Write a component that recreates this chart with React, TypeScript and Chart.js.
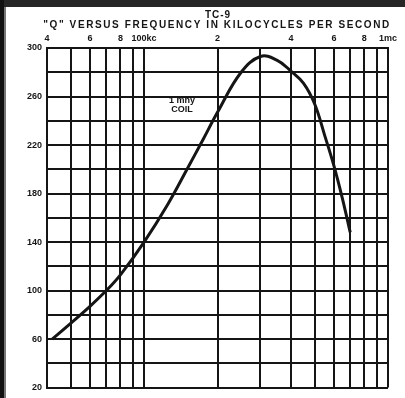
import React, { useEffect, useRef } from "react";
import { Chart, registerables } from "chart.js";

Chart.register(...registerables);

// Frequency in kilocycles per second
const frequencies = [42, 50, 60, 70, 80, 100, 125, 150, 175, 200, 250, 300, 350, 400, 450, 500, 550, 600, 650, 700];
// Q of the 1 mhy coil
const qValues = [60, 73, 87, 100, 113, 140, 171, 200, 225, 247, 280, 293, 290, 281, 271, 254, 228, 203, 176, 148];

const xTickValues = [40, 50, 60, 70, 80, 90, 100, 200, 300, 400, 500, 600, 700, 800, 900, 1000];
const xTickLabels = ["4", "", "6", "", "8", "", "100kc", "2", "", "4", "", "6", "", "8", "", "1mc"];

const yTickValues = [20, 40, 60, 80, 100, 120, 140, 160, 180, 200, 220, 240, 260, 280, 300];
const yTickLabels = ["20", "", "60", "", "100", "", "140", "", "180", "", "220", "", "260", "", "300"];

const titleLines = ["TC-9", "\"Q\" VERSUS FREQUENCY IN KILOCYCLES PER SECOND"];
const noteLines = ["1 mhy", "COIL"];
const noteAnchor = { freq: 143, q: [257, 249] };

const INK = "#151515";

const decorPlugin = {
  id: "decor",
  beforeDraw(chart: any) {
    const ctx = chart.ctx;
    ctx.save();
    ctx.fillStyle = "#ffffff";
    ctx.fillRect(0, 0, chart.width, chart.height);
    ctx.fillStyle = "#262626";
    ctx.fillRect(0, 0, chart.width, 7);
    ctx.fillStyle = "#111111";
    ctx.fillRect(0, 0, 4, chart.height);
    ctx.fillStyle = "#777777";
    ctx.fillRect(4, 7, 2, chart.height - 7);
    ctx.restore();
  },
  afterDraw(chart: any) {
    const ctx = chart.ctx;
    ctx.save();
    ctx.fillStyle = INK;
    ctx.textAlign = "center";
    ctx.textBaseline = "middle";
    ctx.font = "bold 10px 'Liberation Sans', Arial, sans-serif";
    (ctx as any).letterSpacing = "1px";
    ctx.fillText(titleLines[0], 218, 15);
    (ctx as any).letterSpacing = "1.6px";
    ctx.fillText(titleLines[1], 217, 25);
    (ctx as any).letterSpacing = "0px";
    const xs = chart.scales.x;
    const ys = chart.scales.y;
    ctx.font = "bold 9px 'Liberation Sans', Arial, sans-serif";
    const nx = xs.getPixelForValue(noteAnchor.freq);
    ctx.fillText(noteLines[0], nx, ys.getPixelForValue(noteAnchor.q[0]));
    ctx.fillText(noteLines[1], nx, ys.getPixelForValue(noteAnchor.q[1]));
    ctx.restore();
  },
};

export default function App() {
  const ref = useRef<HTMLCanvasElement | null>(null);

  useEffect(() => {
    if (!ref.current) return;
    const chart = new Chart(ref.current, {
      type: "line",
      data: {
        datasets: [
          {
            data: frequencies.map((f, i) => ({ x: f, y: qValues[i] })),
            borderColor: INK,
            borderWidth: 3,
            pointRadius: 0,
            fill: false,
            tension: 0.4,
          },
        ],
      },
      options: {
        animation: false,
        responsive: false,
        devicePixelRatio: 1,
        layout: { padding: { left: 0, right: 17, top: 0, bottom: 8 } },
        plugins: {
          legend: { display: false },
          title: { display: false },
          tooltip: { enabled: false },
        },
        scales: {
          x: {
            type: "logarithmic",
            position: "top",
            min: 40,
            max: 1000,
            afterBuildTicks: (scale: any) => {
              scale.ticks = xTickValues.map((v) => ({ value: v }));
            },
            afterFit: (scale: any) => {
              scale.height = 48;
            },
            grid: { color: INK, lineWidth: 2, drawTicks: false },
            border: { display: true, color: INK, width: 2 },
            ticks: {
              autoSkip: false,
              maxRotation: 0,
              padding: 4,
              color: INK,
              font: { family: "'Liberation Sans', Arial, sans-serif", size: 9, weight: "bold" },
              callback: (value: any) => {
                const i = xTickValues.indexOf(Number(value));
                return i >= 0 ? xTickLabels[i] : "";
              },
            },
          },
          y: {
            type: "linear",
            min: 20,
            max: 300,
            afterBuildTicks: (scale: any) => {
              scale.ticks = yTickValues.map((v) => ({ value: v }));
            },
            afterFit: (scale: any) => {
              scale.width = 47;
            },
            grid: { color: INK, lineWidth: 2, drawTicks: false },
            border: { display: true, color: INK, width: 2 },
            ticks: {
              autoSkip: false,
              padding: 5,
              color: INK,
              font: { family: "'Liberation Sans', Arial, sans-serif", size: 9, weight: "bold" },
              callback: (value: any) => {
                const i = yTickValues.indexOf(Number(value));
                return i >= 0 ? yTickLabels[i] : "";
              },
            },
          },
        },
      },
      plugins: [decorPlugin],
    } as any);
    return () => chart.destroy();
  }, []);

  return (
    <div style={{ position: "absolute", left: 0, top: 0, width: 405, height: 398, background: "#fff" }}>
      <canvas ref={ref} width={405} height={398} style={{ display: "block" }} />
    </div>
  );
}
